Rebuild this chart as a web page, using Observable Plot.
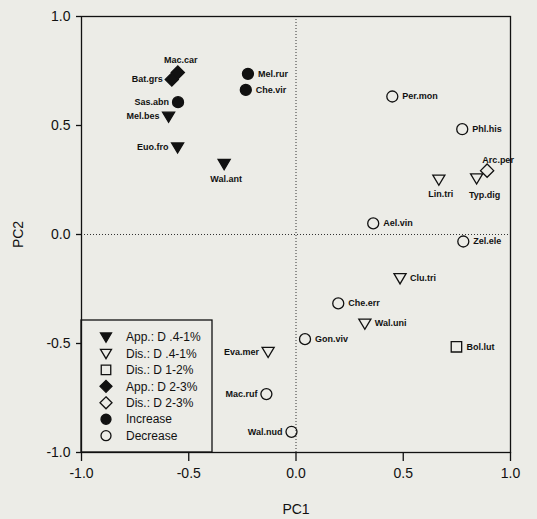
<!DOCTYPE html>
<html><head><meta charset="utf-8">
<script src="https://cdn.jsdelivr.net/npm/d3@7"></script>
<script src="https://cdn.jsdelivr.net/npm/@observablehq/plot@0.6"></script>
<style>
body{margin:0;background:#ecece7;}
#chart{position:relative;width:537px;height:519px;}
</style></head><body><div id="chart"></div>
<script>
// ---- data ----
const species = ["Mac.car","Bat.grs","Sas.abn","Mel.bes","Euo.fro","Wal.ant","Mel.rur","Che.vir",
  "Per.mon","Phl.his","Arc.per","Typ.dig","Lin.tri","Ael.vin","Zel.ele","Clu.tri","Che.err",
  "Wal.uni","Gon.viv","Bol.lut","Eva.mer","Mac.ruf","Wal.nud"];
const pc1 = [-0.551,-0.579,-0.550,-0.594,-0.552,-0.335,-0.224,-0.234,
  0.449,0.775,0.891,0.842,0.666,0.360,0.780,0.485,0.197,
  0.321,0.042,0.748,-0.130,-0.138,-0.021];
const pc2 = [0.743,0.711,0.607,0.541,0.400,0.324,0.737,0.663,
  0.633,0.483,0.293,0.258,0.252,0.051,-0.032,-0.200,-0.316,
  -0.408,-0.480,-0.515,-0.538,-0.732,-0.905];
const group = ["App.: D 2-3%","App.: D 2-3%","Increase","App.: D .4-1%","App.: D .4-1%","App.: D .4-1%","Increase","Increase",
  "Decrease","Decrease","Dis.: D 2-3%","Dis.: D .4-1%","Dis.: D .4-1%","Decrease","Decrease","Dis.: D .4-1%","Decrease",
  "Dis.: D .4-1%","Decrease","Dis.: D 1-2%","Dis.: D .4-1%","Decrease","Decrease"];
const legendGroups = ["App.: D .4-1%","Dis.: D .4-1%","Dis.: D 1-2%","App.: D 2-3%","Dis.: D 2-3%","Increase","Decrease"];
const xTicks = [-1.0,-0.5,0.0,0.5,1.0];
const yTicks = [-1.0,-0.5,0.0,0.5,1.0];
const labelsLeft = ["Bat.grs","Sas.abn","Mel.bes","Euo.fro","Eva.mer","Mac.ruf","Wal.nud"];
const labelsAbove = ["Mac.car"];
const labelsAboveRight = ["Arc.per"];
const labelsBelow = ["Wal.ant","Lin.tri"];
const labelsBelowRight = ["Typ.dig"];

// ---- symbols ----
const triDown = {draw(ctx, size){const r=Math.sqrt(size/Math.PI); const w=r*1.1,t=r*0.8,b=r*1.05;
  ctx.moveTo(-w,-t); ctx.lineTo(w,-t); ctx.lineTo(0,b); ctx.closePath();}};
const sq = {draw(ctx,size){const r=Math.sqrt(size/Math.PI)*0.95; ctx.rect(-r,-r,2*r,2*r);}};
const dia = {draw(ctx,size){const r=Math.sqrt(size/Math.PI)*1.2;
  ctx.moveTo(0,-r); ctx.lineTo(r,0); ctx.lineTo(0,r); ctx.lineTo(-r,0); ctx.closePath();}};
const circ = d3.symbolCircle;
const groupStyle = {
  "App.: D .4-1%": {symbol: triDown, filled: true},
  "Dis.: D .4-1%": {symbol: triDown, filled: false},
  "Dis.: D 1-2%": {symbol: sq, filled: false},
  "App.: D 2-3%": {symbol: dia, filled: true},
  "Dis.: D 2-3%": {symbol: dia, filled: false},
  "Increase": {symbol: circ, filled: true},
  "Decrease": {symbol: circ, filled: false}
};

const data = species.map((s,i)=>({name:s, x:pc1[i], y:pc2[i], group:group[i]}));
const fmt = d => d.toFixed(1);
const R = 5.5;

const dotMarks = legendGroups.map(g => {
  const st = groupStyle[g];
  return Plot.dot(data.filter(d=>d.group===g), {x:"x", y:"y", symbol: st.symbol, r: R,
    fill: st.filled ? "#111" : "none", stroke: "#111", strokeWidth: 1.3});
});
const textOpts = {x:"x", y:"y", text:"name", fontSize:9, fontWeight:"bold", fill:"#111", lineAnchor:"middle"};
const inList = (l) => data.filter(d => l.includes(d.name));
const others = data.filter(d => ![...labelsLeft,...labelsAbove,...labelsAboveRight,...labelsBelow,...labelsBelowRight].includes(d.name));

const plot = Plot.plot({
  width: 537, height: 519,
  marginLeft: 81, marginRight: 27, marginTop: 16, marginBottom: 67,
  x: {domain: [-1, 1]},
  y: {domain: [-1, 1]},
  style: {fontFamily: "'Liberation Sans', Arial, sans-serif", background: "transparent", color: "#111"},
  marks: [
    Plot.ruleX([0], {stroke: "#333", strokeDasharray: "1,2", strokeWidth: 1}),
    Plot.ruleY([0], {stroke: "#333", strokeDasharray: "1,2", strokeWidth: 1}),
    Plot.axisX(xTicks, {tickSize: 9, tickPadding: 7, fontSize: 14, tickFormat: fmt, strokeWidth: 1.3,
      label: "PC1", labelAnchor: "center", labelOffset: 61, labelArrow: "none"}),
    Plot.axisY(yTicks, {tickSize: 5, tickPadding: 6, fontSize: 14, tickFormat: fmt, strokeWidth: 1.3,
      label: "PC2", labelAnchor: "center", labelOffset: 68, labelArrow: "none"}),
    ...dotMarks,
    Plot.text(others, {...textOpts, textAnchor: "start", dx: 10}),
    Plot.text(inList(labelsLeft), {...textOpts, textAnchor: "end", dx: -9}),
    Plot.text(inList(labelsAbove), {...textOpts, textAnchor: "middle", dx: 3, dy: -12}),
    Plot.text(inList(labelsAboveRight), {...textOpts, textAnchor: "middle", dx: 11, dy: -11}),
    Plot.text(inList(labelsBelow), {...textOpts, textAnchor: "middle", dx: 2, dy: 15}),
    Plot.text(inList(labelsBelowRight), {...textOpts, textAnchor: "middle", dx: 8, dy: 17}),
    Plot.frame({stroke: "#111", strokeWidth: 1.3})
  ]
});
document.getElementById("chart").appendChild(plot);

// ---- legend inside plot area (bottom-left) ----
const svg = d3.select(plot);
const lg = svg.append("g").attr("transform", "translate(81,320)").attr("text-anchor","start");
lg.append("rect").attr("x",0).attr("y",0).attr("width",131).attr("height",132)
  .attr("fill","none").attr("stroke","#111").attr("stroke-width",1.3);
legendGroups.forEach((g,i)=>{
  const st = groupStyle[g];
  const yy = 17 + i*16.45;
  lg.append("path").attr("transform",`translate(25,${yy})`)
    .attr("d", d3.symbol(st.symbol, Math.PI*5*5)())
    .attr("fill", st.filled ? "#111" : "none").attr("stroke","#111").attr("stroke-width",1.3);
  lg.append("text").attr("x",45).attr("y",yy).attr("dy","0.35em")
    .attr("text-anchor","start")
    .attr("font-size",12).attr("fill","#111")
    .attr("font-family","'Liberation Sans', Arial, sans-serif").text(g);
});
</script>
</body></html>
